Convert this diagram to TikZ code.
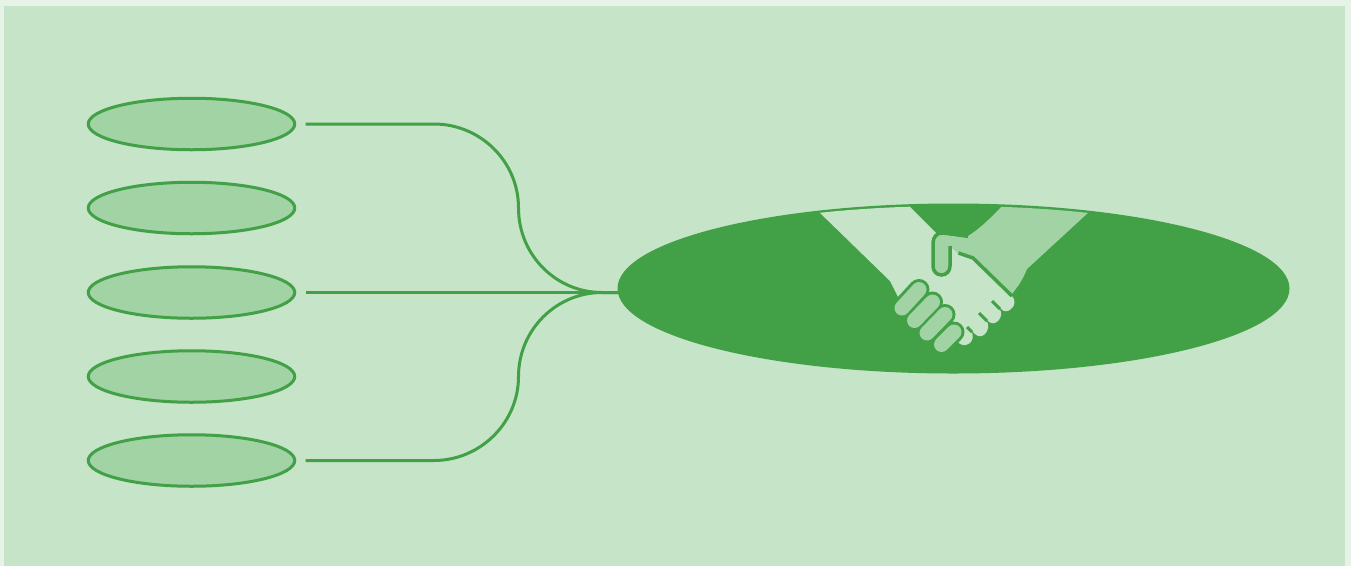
\documentclass[tikz,border=0pt]{standalone}
\usetikzlibrary{shapes.geometric}
\definecolor{outerbg}{HTML}{E6F3E6}
\definecolor{innerbg}{HTML}{C6E4C7}
\definecolor{softgreen}{HTML}{A2D3A4}
\definecolor{deepgreen}{HTML}{42A047}
\tikzset{
  item/.style={ellipse,draw=deepgreen,fill=softgreen,line width=3pt,minimum width=206.5pt,minimum height=51.5pt,inner sep=0pt,outer sep=0pt},
  hubshape/.style={ellipse,fill=deepgreen,minimum width=672pt,minimum height=170pt,inner sep=0pt,outer sep=0pt},
  link/.style={draw=deepgreen,line width=3pt},
  fingerout/.style={draw=deepgreen,line width=21pt,line cap=round},
  fingerin/.style={draw=softgreen,line width=15pt,line cap=round}
}
\begin{document}
\begin{tikzpicture}[x=1pt,y=-1pt]
\useasboundingbox (0,0) rectangle (1351,566);
\fill[outerbg] (0,0) rectangle (1351,566);
\fill[innerbg] (4,6) rectangle (1345,566);
% item ellipses
\node[item] (e1) at (191.5,124) {};
\node[item] (e2) at (191.5,208) {};
\node[item] (e3) at (191.5,292.5) {};
\node[item] (e4) at (191.5,376.5) {};
\node[item] (e5) at (191.5,460.5) {};
\node[hubshape] (hub) at (953.5,288.5) {};
\coordinate (hubin) at (620,292.5);
\coordinate (s1) at (305.5,124);
\coordinate (s3) at (305.5,292.5);
\coordinate (s5) at (305.5,460.5);
% connectors
\draw[link] (s1) -- (434,124) .. controls (480,124) and (518.5,161) .. (518.5,208)
  .. controls (518.5,255) and (556,292.5) .. (602,292.5) -- (hubin);
\draw[link] (s3) -- (hubin);
\draw[link] (s5) -- (434,460.5) .. controls (480,460.5) and (518.5,423) .. (518.5,376.5)
  .. controls (518.5,330) and (556,292.5) .. (602,292.5) -- (hubin);
% handshake
\begin{scope}
\clip (953.5,288.5) ellipse [x radius=336, y radius=82.5];
% left sleeve and hand
\fill[innerbg] (818,211) -- (906,203) -- (935,232) -- (950,246) -- (958,253) -- (973,258)
  -- (1012,296) .. controls (1016,300) and (1015,306) .. (1011,309)
  .. controls (1008,312) and (1004,312) .. (1001,309) -- (992,301)
  -- (999,308) .. controls (1003,313) and (1001,318) .. (998,321)
  .. controls (995,324) and (991,324) .. (988,321) -- (979,313)
  -- (986,320) .. controls (990,325) and (988,331) .. (985,334)
  .. controls (982,337) and (978,337) .. (975,334) -- (967,327)
  -- (971,331) .. controls (974,335) and (973,340) .. (970,343)
  .. controls (966,346) and (961,346) .. (958,342)
  -- (940,320) -- (898,297) -- (890,281) -- cycle;
% right sleeve and thumb
\fill[softgreen] (1003,205) -- (1090,211) -- (1027,269) .. controls (1023,279) and (1019,285) .. (1012,294)
  -- (973,258) -- (958,253) -- (950,246) -- (950,236) -- (943,232) -- (968,236)
  .. controls (978,230) and (990,219) .. (1003,205) -- cycle;
\end{scope}
% hand outline
\draw[deepgreen,line width=3.5pt,fill=softgreen] (950,246) -- (950,266)
  .. controls (950,271) and (946.5,275) .. (941.5,275)
  .. controls (936.5,275) and (933,271) .. (933,266) -- (933,243)
  .. controls (933,237) and (937,232.5) .. (943,233) -- (968,236.5);
\fill[softgreen] (943,235) -- (970,238.5) -- (958,252) -- (951.8,246) -- (951.8,241) -- cycle;
\draw[deepgreen,line width=3.5pt] (958.5,253) -- (973,258) -- (1012,296);
\draw[deepgreen,line width=3pt] (992,301) -- (1000,309);
\draw[deepgreen,line width=3pt] (979,313) -- (987,321);
\draw[deepgreen,line width=3pt] (967,327) -- (972,332);
% fingers
\foreach \ax/\ay/\bx/\by in {954/332/941.5/344.5,945/314.5/927/333,932.5/302/914.5/320.5,919/289.5/902/308}{
  \draw[fingerout] (\ax,\ay) -- (\bx,\by);
}
\foreach \ax/\ay/\bx/\by in {954/332/941.5/344.5,945/314.5/927/333,932.5/302/914.5/320.5,919/289.5/902/308}{
  \draw[fingerin] (\ax,\ay) -- (\bx,\by);
}
\end{tikzpicture}
\end{document}
